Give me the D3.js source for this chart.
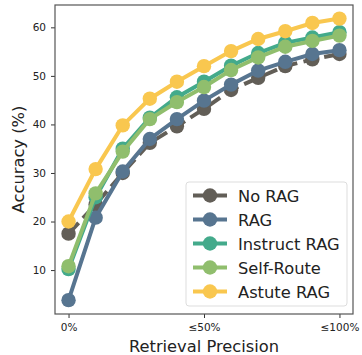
<!DOCTYPE html>
<html>
<head>
<meta charset="utf-8">
<script src="https://cdnjs.cloudflare.com/ajax/libs/d3/7.8.5/d3.min.js"></script>
<style>
  body { margin: 0; background: #fff; }
  svg { font-family: "DejaVu Sans", sans-serif; }
</style>
</head>
<body>
<svg width="362" height="355"></svg>
<script>
var steps = [0, 1, 2, 3, 4, 5, 6, 7, 8, 9, 10];
var xTickLabels = ["0%", "≤50%", "≤100%"];
var yTicks = [10, 20, 30, 40, 50, 60];

var seriesNames = ["No RAG", "RAG", "Instruct RAG", "Self-Route", "Astute RAG"];
var noRag = [17.5, 23.5, 30.0, 36.2, 39.6, 43.2, 47.1, 49.6, 52.0, 53.4, 54.5];
var rag = [3.8, 20.8, 30.3, 37.0, 41.1, 44.9, 48.2, 51.1, 52.9, 54.5, 55.3];
var instructRag = [10.2, 25.0, 35.0, 41.4, 45.6, 48.8, 52.1, 54.7, 56.8, 57.9, 59.0];
var selfRoute = [10.8, 25.8, 34.4, 41.1, 44.6, 47.7, 51.2, 53.8, 56.0, 57.2, 58.3];
var astuteRag = [20.0, 30.8, 39.8, 45.3, 48.8, 52.0, 55.1, 57.6, 59.2, 60.9, 61.8];
var colors = ["#625e57", "#577590", "#43aa8b", "#90be6d", "#f9c74f"];

var allSeries = [noRag, rag, instructRag, selfRoute, astuteRag];

var svg = d3.select("svg"),
    margin = { top: 5, right: 9, bottom: 41, left: 55 },
    width = +svg.attr("width") - margin.left - margin.right,
    height = +svg.attr("height") - margin.top - margin.bottom;

var x = d3.scaleLinear().domain([-0.5, 10.5]).range([0, width]);
var y = d3.scaleLinear().domain([0.95, 64.6]).range([height, 0]);

var g = svg.append("g")
    .attr("transform", "translate(" + margin.left + "," + margin.top + ")");

// axes
var xAxis = g.append("g")
    .attr("transform", "translate(0," + height + ")")
    .call(d3.axisBottom(x).tickValues([0, 5, 10]).tickSize(4).tickPadding(6)
        .tickFormat(function(d, i) { return xTickLabels[i]; }));
var yAxis = g.append("g")
    .call(d3.axisLeft(y).tickValues(yTicks).tickSize(4).tickPadding(5));

[xAxis, yAxis].forEach(function(a) {
    a.select(".domain").remove();
    a.selectAll("text").attr("font-size", 10.5).attr("fill", "#222").attr("font-family", "DejaVu Sans");
    a.selectAll("line").attr("stroke", "#333");
});

g.append("rect")
    .attr("width", width).attr("height", height)
    .attr("fill", "none").attr("stroke", "#555").attr("stroke-width", 1.2);

var line = d3.line()
    .x(function(d, i) { return x(steps[i]); })
    .y(function(d) { return y(d); });

allSeries.forEach(function(s, k) {
    g.append("path")
        .datum(s)
        .attr("d", line)
        .attr("fill", "none")
        .attr("stroke", colors[k])
        .attr("stroke-width", 4)
        .attr("stroke-dasharray", k === 0 ? "14.8,6.4" : null);
    g.selectAll(".pt" + k)
        .data(s)
        .enter().append("circle")
        .attr("class", "pt" + k)
        .attr("cx", function(d, i) { return x(steps[i]); })
        .attr("cy", function(d) { return y(d); })
        .attr("r", 7.2)
        .attr("fill", colors[k]);
});

// axis labels
svg.append("text")
    .attr("x", margin.left + width / 2)
    .attr("y", 352)
    .attr("text-anchor", "middle")
    .attr("font-size", 16.3)
    .attr("fill", "#222")
    .text("Retrieval Precision");

svg.append("text")
    .attr("transform", "translate(24," + (margin.top + height / 2) + ") rotate(-90)")
    .attr("text-anchor", "middle")
    .attr("font-size", 16.3)
    .attr("fill", "#222")
    .text("Accuracy (%)");

// legend
var legend = svg.append("g").attr("transform", "translate(186,182)");
legend.append("rect")
    .attr("width", 161).attr("height", 124).attr("rx", 3)
    .attr("fill", "#fff").attr("fill-opacity", 0.85)
    .attr("stroke", "#ddd").attr("stroke-width", 1);

seriesNames.forEach(function(name, k) {
    var ly = 13.5 + k * 24;
    legend.append("line")
        .attr("x1", 7).attr("x2", 41).attr("y1", ly).attr("y2", ly)
        .attr("stroke", colors[k]).attr("stroke-width", 4)
        .attr("stroke-dasharray", k === 0 ? "14.8,6.4" : null);
    legend.append("circle")
        .attr("cx", 24).attr("cy", ly).attr("r", 7.2).attr("fill", colors[k]);
    legend.append("text")
        .attr("x", 52).attr("y", ly + 6)
        .attr("font-size", 16.3)
        .attr("fill", "#222")
        .text(name);
});
</script>
</body>
</html>
